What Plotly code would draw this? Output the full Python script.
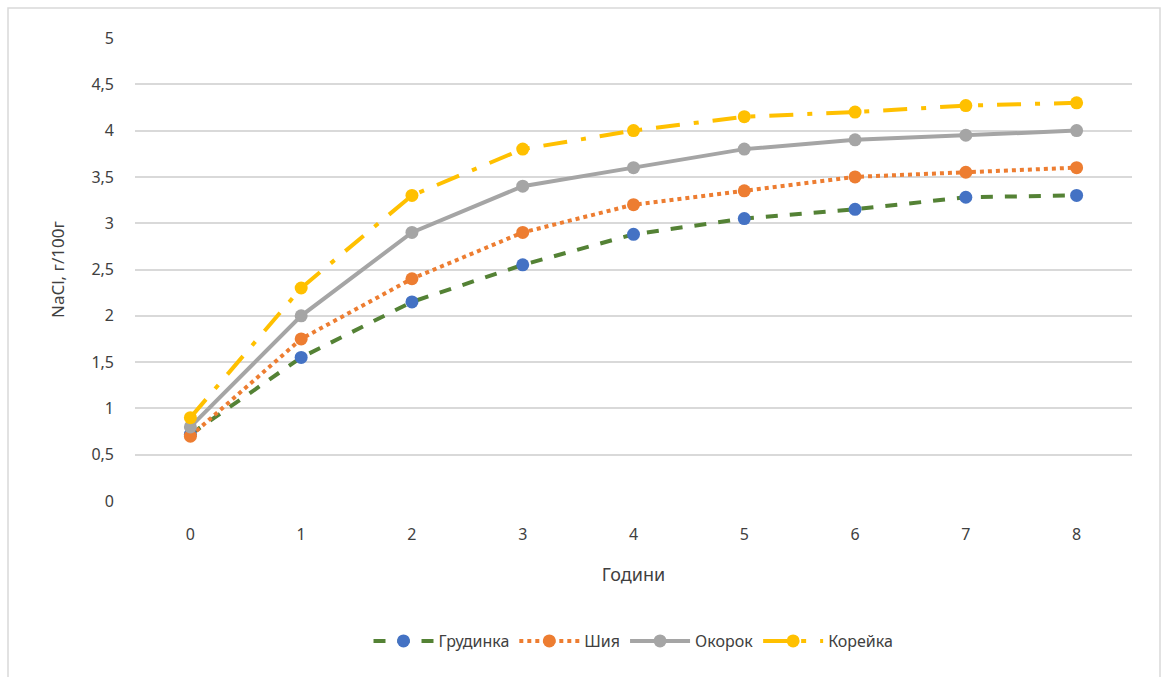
import plotly.graph_objects as go

hours = [0, 1, 2, 3, 4, 5, 6, 7, 8]
grudynka = [0.72, 1.55, 2.15, 2.55, 2.88, 3.05, 3.15, 3.28, 3.3]
shyia = [0.7, 1.75, 2.4, 2.9, 3.2, 3.35, 3.5, 3.55, 3.6]
okorok = [0.8, 2.0, 2.9, 3.4, 3.6, 3.8, 3.9, 3.95, 4.0]
koreika = [0.9, 2.3, 3.3, 3.8, 4.0, 4.15, 4.2, 4.27, 4.3]
y_ticks = [0, 0.5, 1, 1.5, 2, 2.5, 3, 3.5, 4, 4.5, 5]

series = [
    ("Грудинка", grudynka, "#548235", "#4472C4", "dash"),
    ("Шия", shyia, "#ED7D31", "#ED7D31", "dot"),
    ("Окорок", okorok, "#A5A5A5", "#A5A5A5", "solid"),
    ("Корейка", koreika, "#FFC000", "#FFC000", "24px,14px,5px,14px"),
]

fig = go.Figure()
for name, vals, line_col, marker_col, dash in series:
    fig.add_trace(go.Scatter(
        x=hours, y=vals, name=name, mode="lines+markers",
        line=dict(color=line_col, width=4, dash=dash),
        marker=dict(color=marker_col, size=13),
    ))

font_family = "Noto Sans, Open Sans, sans-serif"
fig.update_layout(
    width=1161, height=677,
    paper_bgcolor="white", plot_bgcolor="white",
    separators=", ",
    margin=dict(l=135, r=29, t=38, b=176),
    font=dict(family=font_family, size=16, color="#404040"),
    showlegend=True,
    legend=dict(
        orientation="h", x=0.5, xanchor="center",
        yref="container", y=36 / 677, yanchor="middle",
        font=dict(size=16, color="#404040"), itemwidth=60,
    ),
    xaxis=dict(
        range=[-0.5, 8.5], tickvals=hours, showgrid=False, zeroline=False,
        showline=False, ticks="", ticklabelstandoff=22,
        title=dict(text="Години", font=dict(size=18, color="#404040"), standoff=24),
    ),
    yaxis=dict(
        range=[0, 5], tickvals=y_ticks, showgrid=True, gridcolor="#D9D9D9",
        gridwidth=1.5, zeroline=False, showline=False, ticks="",
        ticklabelstandoff=20,
        title=dict(text="NaCl, г/100г", font=dict(size=17, color="#404040"), standoff=22),
    ),
    shapes=[dict(
        type="rect", xref="paper", yref="paper",
        x0=-127 / 997, x1=1025 / 997, y0=-0.5, y1=1 + 30 / 463,
        line=dict(color="#D9D9D9", width=1.5), layer="below",
    )],
)

fig.write_html("out.html")
